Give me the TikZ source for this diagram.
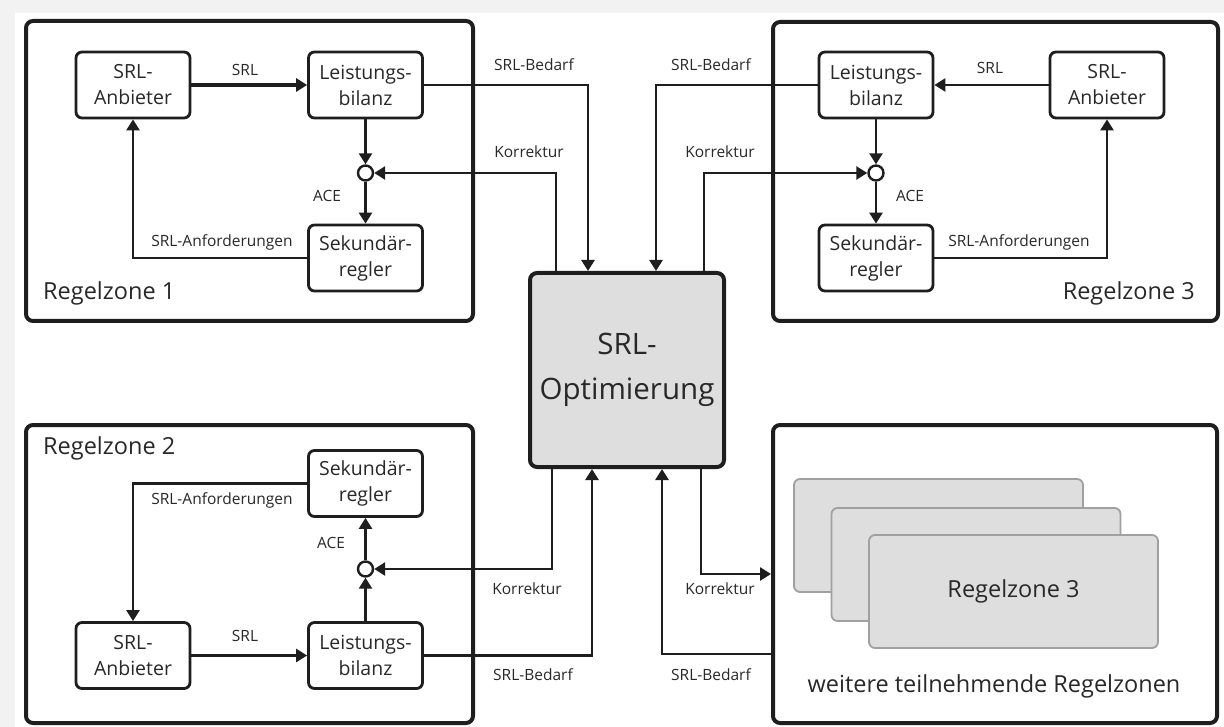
\documentclass[tikz,border=0pt]{standalone}
\usepackage{fontspec}
\setmainfont{Open Sans}
\usetikzlibrary{arrows.meta,positioning,calc}
\definecolor{linegray}{RGB}{30,30,30}
\definecolor{textgray}{RGB}{40,40,40}
\definecolor{boxgray}{RGB}{222,222,222}
\definecolor{edgegray}{RGB}{160,160,160}
\definecolor{framegray}{RGB}{242,242,242}

\begin{document}
\begin{tikzpicture}[x=1pt, y=-1pt,
    every node/.style={text=textgray},
    zone/.style={draw=linegray, line width=4pt, rounded corners=7pt, inner sep=0pt},
    blk/.style={draw=linegray, line width=2.8pt, rounded corners=6pt, minimum width=114pt, minimum height=66pt, inner sep=0pt, align=center, font=\fontsize{19.5}{26}\selectfont},
    sumpt/.style={circle, draw=linegray, line width=2.4pt, fill=white, minimum size=15pt, inner sep=0pt},
    lbl/.style={font=\fontsize{15.5}{18}\selectfont, inner sep=0pt},
    zonelbl/.style={font=\fontsize{23.5}{28}\selectfont, inner sep=0pt},
    flow/.style={draw=linegray, line width=2.6pt, -{Triangle[length=11pt,width=13pt]}},
    stack/.style={draw=edgegray, line width=1.8pt, fill=boxgray, rounded corners=6pt, minimum width=289pt, minimum height=113pt, inner sep=0pt}]
    % Frame
    \fill[framegray] (0,0) rectangle (1224,727);
    \fill[white] (15,13) rectangle (1224,727);
    \useasboundingbox (0,0) rectangle (1224,727);

    % Optimizer
    \node[draw=linegray, fill=boxgray, line width=4pt, rounded corners=7pt, minimum width=194pt, minimum height=194pt, align=center, font=\fontsize{29.5}{45}\selectfont] (opt) at (627,370) {SRL-\\Optimierung};

    % Regelzone 1
    \node[zone, minimum width=447pt, minimum height=300pt] (zone1) at (249.5,171) {};
    \node[zonelbl, anchor=west] (zlab1) at (43,293) {Regelzone 1};
    \node[blk] (anb1) at (133,85) {SRL-\\Anbieter};
    \node[blk] (bil1) at (365.5,85) {Leistungs-\\bilanz};
    \node[sumpt] (sum1) at (365.5,173) {};
    \node[blk] (sek1) at (365.5,258) {Sekundär-\\regler};

    % Regelzone 3
    \node[zone, minimum width=445pt, minimum height=299pt] (zone3) at (995.5,171.5) {};
    \node[zonelbl, anchor=east] (zlab3) at (1195,293) {Regelzone 3};
    \node[blk] (bil3) at (876,85) {Leistungs-\\bilanz};
    \node[blk] (anb3) at (1107,85) {SRL-\\Anbieter};
    \node[sumpt] (sum3) at (876,173) {};
    \node[blk] (sek3) at (876,258) {Sekundär-\\regler};

    % Regelzone 2
    \node[zone, minimum width=447pt, minimum height=298pt] (zone2) at (249.5,574) {};
    \node[zonelbl, anchor=west] (zlab2) at (43,448) {Regelzone 2};
    \node[blk] (sek2) at (365.5,483.5) {Sekundär-\\regler};
    \node[sumpt] (sum2) at (365.5,569) {};
    \node[blk] (anb2) at (133,655.5) {SRL-\\Anbieter};
    \node[blk] (bil2) at (365.5,655.5) {Leistungs-\\bilanz};

    % weitere Regelzonen
    \node[zone, minimum width=444pt, minimum height=298pt] (zone4) at (995,574) {};
    \node[stack] (back1) at (938.5,535.5) {};
    \node[stack] (back2) at (976,564.5) {};
    \node[stack, font=\fontsize{23.5}{28}\selectfont] (front) at (1013.5,591.5) {Regelzone 3};
    \node[zonelbl] (zlab4) at (994,686) {weitere teilnehmende Regelzonen};

    % Arrows Regelzone 1
    \draw[flow, line width=3.2pt] (anb1) -- (bil1);
    \draw[flow] (bil1) -- (sum1);
    \draw[flow] (sum1) -- (sek1);
    \draw[flow] (sek1.west) -| (anb1.south);
    \draw[flow] (bil1.east) -| ([xshift=-39pt]opt.north);
    \draw[flow] ([xshift=-71pt]opt.north) |- (sum1.east);

    % Arrows Regelzone 3
    \draw[flow] (anb3) -- (bil3);
    \draw[flow] (bil3) -- (sum3);
    \draw[flow] (sum3) -- (sek3);
    \draw[flow] (sek3.east) -| (anb3.south);
    \draw[flow] (bil3.west) -| ([xshift=29pt]opt.north);
    \draw[flow] ([xshift=77pt]opt.north) |- (sum3.west);

    % Arrows Regelzone 2
    \draw[flow] (anb2) -- (bil2);
    \draw[flow] (bil2) -- (sum2);
    \draw[flow] (sum2) -- (sek2);
    \draw[flow] (sek2.west) -| (anb2.north);
    \draw[flow] (bil2.east) -| ([xshift=-35pt]opt.south);
    \draw[flow] ([xshift=-75pt]opt.south) |- (sum2.east);

    % Arrows weitere Regelzonen
    \draw[flow] ([yshift=-80pt]zone4.west) -| ([xshift=35pt]opt.south);
    \draw[flow] ([xshift=74pt]opt.south) |- (zone4.west);

    % Labels
    \node[lbl] (srl1) at (245,70) {SRL};
    \node[lbl] (srl3) at (990,68) {SRL};
    \node[lbl] (srl2) at (245,636) {SRL};
    \node[lbl] (ace1) at (327,196) {ACE};
    \node[lbl] (ace3) at (910,196) {ACE};
    \node[lbl] (ace2) at (331,543) {ACE};
    \node[lbl] (anf1) at (222,242) {SRL-Anforderungen};
    \node[lbl] (anf3) at (1019,242) {SRL-Anforderungen};
    \node[lbl] (anf2) at (222,500) {SRL-Anforderungen};
    \node[lbl] (bed1) at (534,65) {SRL-Bedarf};
    \node[lbl] (bed3) at (711,65) {SRL-Bedarf};
    \node[lbl] (bed2) at (533,675) {SRL-Bedarf};
    \node[lbl] (bed4) at (711,675) {SRL-Bedarf};
    \node[lbl] (kor1) at (529,152) {Korrektur};
    \node[lbl] (kor3) at (720,152) {Korrektur};
    \node[lbl] (kor2) at (527,589) {Korrektur};
    \node[lbl] (kor4) at (720,589) {Korrektur};
\end{tikzpicture}
\end{document}
